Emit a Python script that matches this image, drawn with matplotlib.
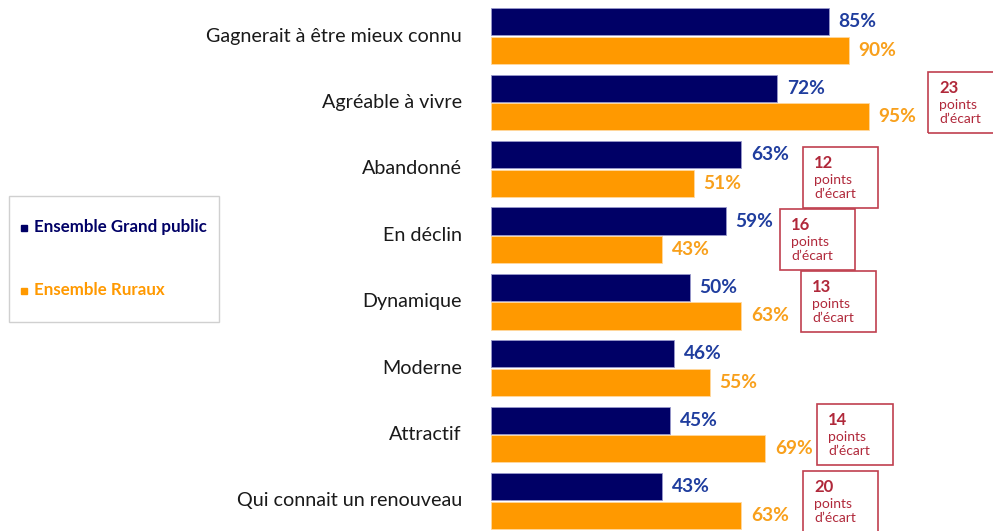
import matplotlib.pyplot as plt
from matplotlib.patches import Rectangle
import numpy as np

categories = ["Gagnerait à être mieux connu", "Agréable à vivre", "Abandonné", "En déclin",
              "Dynamique", "Moderne", "Attractif", "Qui connait un renouveau"]
grand_public = [85, 72, 63, 59, 50, 46, 45, 43]
ruraux = [90, 95, 51, 43, 63, 55, 69, 63]
series_names = ["Ensemble Grand public", "Ensemble Ruraux"]
# "points d'écart" callouts, as printed on the chart
gap_groups = [1, 2, 3, 4, 6, 7]
gap_values = [23, 12, 16, 13, 14, 20]

NAVY = "#000066"
ORANGE = "#FF9900"
NAVY_LBL = "#1F3D9E"
ORANGE_LBL = "#F8A01C"
RED_TXT = "#B0283A"
RED_BOX = "#C0404F"

W, H = 993, 531
fig = plt.figure(figsize=(W / 100, H / 100), dpi=100)
plt.rcParams['font.family'] = ['Lato', 'DejaVu Sans']

def fx(px):
    return px / W

def fy(py):
    return 1 - py / H

# axes from x=491px to right edge, full height
ax = fig.add_axes([fx(491), 0, 1 - fx(491), 1])
px_per_unit = 3.976
ax.set_xlim(0, (W - 491) / px_per_unit)
pitch = 66.4
ax.set_ylim(7 + (H - 501) / pitch, -36 / pitch)
ax.axis("off")

y = np.arange(len(categories))
bh = 0.41
ax.barh(y - 0.215, grand_public, height=bh, color=NAVY, edgecolor="#9999CC", linewidth=0.6)
ax.barh(y + 0.215, ruraux, height=bh, color=ORANGE, edgecolor="#FFD9A0", linewidth=0.6)

for i in range(len(categories)):
    ax.annotate(f"{grand_public[i]}%", (grand_public[i], y[i] - 0.215), xytext=(7, 0),
                textcoords="offset points", va="center", ha="left",
                fontsize=13.8, fontweight="bold", color=NAVY_LBL)
    ax.annotate(f"{ruraux[i]}%", (ruraux[i], y[i] + 0.215), xytext=(7, 0),
                textcoords="offset points", va="center", ha="left",
                fontsize=13.8, fontweight="bold", color=ORANGE_LBL)
    ax.text(-29 / px_per_unit, y[i], categories[i], ha="right", va="center",
            fontsize=14.2, color="#1a1a1a")

# legend box
fig.patches.append(Rectangle((fx(9), fy(322)), fx(219) - fx(9), fy(196) - fy(322),
                             transform=fig.transFigure, fill=False,
                             edgecolor="#D0D0D0", linewidth=1))
for name, col, py in [(series_names[0], NAVY, 227), (series_names[1], ORANGE, 290)]:
    fig.patches.append(Rectangle((fx(21), fy(py + 3.5)), fx(6), 6 / H,
                                 transform=fig.transFigure, color=col))
    fig.text(fx(34), fy(py), name, ha="left", va="center", fontsize=12.2,
             fontweight="bold", color=col)

# callout boxes (left px, top px, width px)
box_pos = [(928, 72, 70), (803, 147, 75), (780, 209, 75), (801, 271, 75),
           (817, 404, 76), (803, 471, 75)]
for val, (bx, by, bw) in zip(gap_values, box_pos):
    fig.patches.append(Rectangle((fx(bx), fy(by + 61)), fx(bw), 61 / H,
                                 transform=fig.transFigure, fill=False,
                                 edgecolor=RED_BOX, linewidth=1.2, clip_on=False))
    fig.text(fx(bx + 11), fy(by + 16), str(val), ha="left", va="center",
             fontsize=12, fontweight="bold", color=RED_TXT)
    fig.text(fx(bx + 11), fy(by + 33), "points", ha="left", va="center",
             fontsize=10, color=RED_TXT)
    fig.text(fx(bx + 11), fy(by + 47), "d\u2019écart", ha="left", va="center",
             fontsize=10, color=RED_TXT)

fig.savefig("out.png", dpi=100)
